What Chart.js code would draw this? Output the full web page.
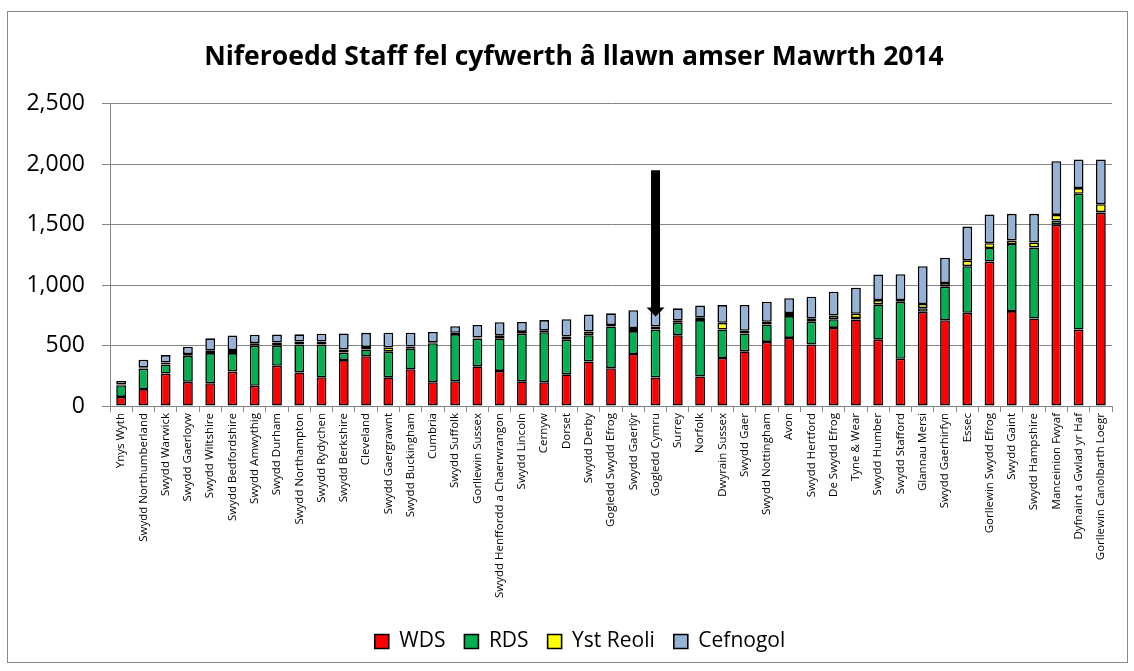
<!DOCTYPE html>
<html>
<head>
<meta charset="utf-8">
<title>Niferoedd Staff</title>
<script src="https://cdn.jsdelivr.net/npm/chart.js@4.4.1/dist/chart.umd.min.js"></script>
<style>
    html, body { margin: 0; padding: 0; background: #fff; }
    #wrap { width: 1134px; height: 671px; }
</style>
</head>
<body>
<div id="wrap"><canvas id="staffChart" width="1134" height="671"></canvas></div>
<script>
// Categories (fire & rescue services), sorted by total
const categories = [
    'Ynys Wyth', 'Swydd Northumberland', 'Swydd Warwick', 'Swydd Gaerloyw', 'Swydd Wiltshire',
    'Swydd Bedfordshire', 'Swydd Amwythig', 'Swydd Durham', 'Swydd Northampton', 'Swydd Rydychen',
    'Swydd Berkshire', 'Cleveland', 'Swydd Gaergrawnt', 'Swydd Buckingham', 'Cumbria',
    'Swydd Suffolk', 'Gorllewin Sussex', 'Swydd Henffordd a Chaerwrangon', 'Swydd Lincoln', 'Cernyw',
    'Dorset', 'Swydd Derby', 'Gogledd Swydd Efrog', 'Swydd Gaerlŷr', 'Gogledd Cymru',
    'Surrey', 'Norfolk', 'Dwyrain Sussex', 'Swydd Gaer', 'Swydd Nottingham',
    'Avon', 'Swydd Hertford', 'De Swydd Efrog', 'Tyne & Wear', 'Swydd Humber',
    'Swydd Stafford', 'Glannau Mersi', 'Swydd Gaerhirfyn', 'Essec', 'Gorllewin Swydd Efrog',
    'Swydd Gaint', 'Swydd Hampshire', 'Manceinion Fwyaf', 'Dyfnaint a Gwlad yr Haf', 'Gorllewin Canolbarth Loegr'
];

const wds = [
    75, 140, 268, 200, 188, 285, 167, 333, 278, 238,
    380, 412, 237, 305, 197, 205, 328, 290, 204, 197,
    262, 369, 313, 430, 236, 586, 244, 397, 452, 530,
    563, 508, 646, 716, 549, 391, 779, 710, 771, 1195,
    785, 724, 1500, 632, 1600
];
const rds = [
    97, 170, 76, 215, 250, 153, 333, 167, 230, 270,
    62, 56, 212, 172, 322, 390, 230, 270, 394, 414,
    287, 217, 345, 190, 397, 103, 467, 236, 148, 145,
    181, 189, 72, 12, 292, 471, 30, 277, 386, 112,
    555, 588, 34, 1124, 5
];
const ystReoli = [
    5, 10, 15, 15, 20, 25, 20, 25, 25, 25,
    25, 20, 35, 15, 8, 10, 8, 25, 15, 15,
    25, 30, 12, 25, 25, 20, 20, 55, 22, 22,
    25, 25, 30, 35, 35, 15, 35, 30, 45, 40,
    30, 40, 47, 47, 65
];
const cefnogol = [
    30, 63, 62, 60, 102, 120, 70, 66, 60, 65,
    133, 117, 122, 115, 85, 55, 104, 108, 82, 85,
    144, 140, 97, 147, 140, 99, 100, 147, 214, 166,
    123, 182, 198, 216, 212, 213, 313, 210, 282, 237,
    220, 238, 444, 236, 370
];

const yTicks = [0, 500, 1000, 1500, 2000, 2500];

// Arrow pointing at Gogledd Cymru
const arrowCategory = 'Gogledd Cymru';
const arrowFrom = 1950;
const arrowTo = 740;

const frameAndArrow = {
    id: 'frameAndArrow',
    afterLayout(chart) {
        // nudge title and legend to sit where the original has them
        chart.titleBlock.left += 28;
        chart.legend.left += 40;
    },
    beforeDraw(chart) {
        const ctx = chart.ctx;
        ctx.save();
        ctx.fillStyle = '#ffffff';
        ctx.fillRect(0, 0, chart.width, chart.height);
        ctx.strokeStyle = '#898989';
        ctx.lineWidth = 1;
        ctx.strokeRect(7.5, 11.5, 1120, 651);
        ctx.restore();
    },
    afterDatasetsDraw(chart) {
        const ctx = chart.ctx;
        const x = chart.scales.x.getPixelForValue(categories.indexOf(arrowCategory));
        const yTop = chart.scales.y.getPixelForValue(arrowFrom);
        const yTip = chart.scales.y.getPixelForValue(arrowTo);
        const headH = 9, headW = 9, shaftW = 4.5;
        ctx.save();
        ctx.fillStyle = '#000000';
        ctx.beginPath();
        ctx.moveTo(x - shaftW, yTop);
        ctx.lineTo(x + shaftW, yTop);
        ctx.lineTo(x + shaftW, yTip - headH);
        ctx.lineTo(x + headW, yTip - headH);
        ctx.lineTo(x, yTip);
        ctx.lineTo(x - headW, yTip - headH);
        ctx.lineTo(x - shaftW, yTip - headH);
        ctx.closePath();
        ctx.fill();
        ctx.restore();
    }
};

function makeSet(label, data, color) {
    return {
        label: label,
        data: data,
        backgroundColor: color,
        borderColor: '#000000',
        borderWidth: 1.6,
        borderSkipped: false,
        barPercentage: 0.44,
        categoryPercentage: 1.0
    };
}

Chart.defaults.font.family = '"Open Sans", "DejaVu Sans", sans-serif';
Chart.defaults.color = '#000000';

new Chart(document.getElementById('staffChart'), {
    type: 'bar',
    data: {
        labels: categories,
        datasets: [
            makeSet('WDS', wds, '#FF0000'),
            makeSet('RDS', rds, '#00B050'),
            makeSet('Yst Reoli', ystReoli, '#FFFF00'),
            makeSet('Cefnogol', cefnogol, '#95B3D7')
        ]
    },
    options: {
        responsive: false,
        animation: false,
        layout: {
            padding: { top: 12, left: 8, right: 22, bottom: 9 }
        },
        scales: {
            x: {
                stacked: true,
                grid: {
                    offset: true,
                    drawOnChartArea: false,
                    drawTicks: true,
                    tickLength: 6,
                    color: '#868686'
                },
                border: { color: '#868686' },
                ticks: {
                    autoSkip: false,
                    minRotation: 90,
                    maxRotation: 90,
                    padding: 1,
                    font: { size: 11.5 }
                },
                afterFit(scale) { scale.height = 206; }
            },
            y: {
                stacked: true,
                min: 0,
                max: 2500,
                afterBuildTicks(scale) {
                    scale.ticks = yTicks.map(v => ({ value: v }));
                },
                grid: {
                    color: '#868686',
                    tickLength: 8
                },
                border: { color: '#868686' },
                ticks: {
                    padding: 17,
                    font: { size: 23 },
                    callback: v => v.toLocaleString('en-US')
                },
                afterFit(scale) { scale.width = 102; }
            }
        },
        plugins: {
            title: {
                display: true,
                text: 'Niferoedd Staff fel cyfwerth â llawn amser Mawrth 2014',
                font: { size: 26.5, weight: 'bold' },
                color: '#000000',
                padding: { top: 30, bottom: 30 }
            },
            legend: {
                position: 'bottom',
                labels: {
                    boxWidth: 14,
                    boxHeight: 14,
                    padding: 19,
                    font: { size: 21 },
                    color: '#000000'
                }
            },
            tooltip: { enabled: false }
        }
    },
    plugins: [frameAndArrow]
});
</script>
</body>
</html>
